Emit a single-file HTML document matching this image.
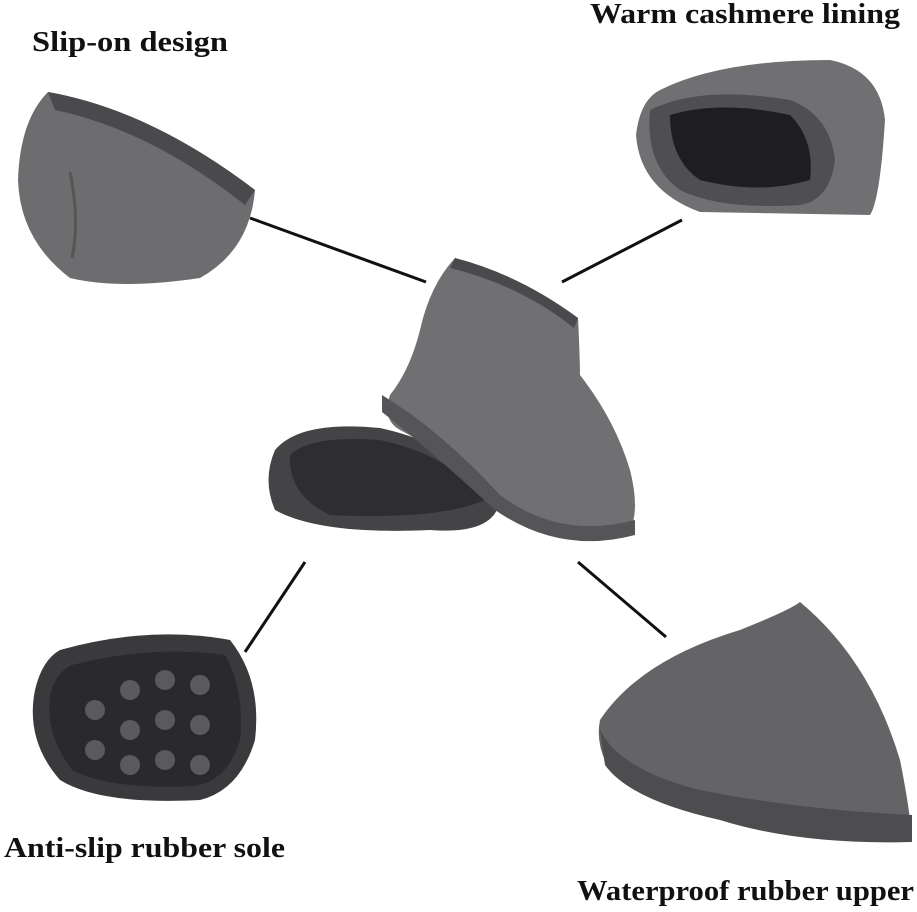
<!DOCTYPE html>
<html><head><meta charset="utf-8"><style>
body{margin:0;background:#fff;}
svg{display:block}
text{font-family:"Liberation Serif",serif;font-size:28px;font-weight:bold;fill:#111;}
</style></head><body>
<svg width="917" height="912" viewBox="0 0 917 912" xmlns="http://www.w3.org/2000/svg">
<rect width="917" height="912" fill="#fff"/>
<text x="32" y="51" textLength="196" lengthAdjust="spacingAndGlyphs">Slip-on design</text>
<text x="590" y="23" textLength="310" lengthAdjust="spacingAndGlyphs">Warm cashmere lining</text>
<text x="4" y="857" textLength="281" lengthAdjust="spacingAndGlyphs">Anti-slip rubber sole</text>
<text x="577" y="900" textLength="337" lengthAdjust="spacingAndGlyphs">Waterproof rubber upper</text>
<g stroke="#111" stroke-width="3">
<line x1="250" y1="218" x2="426" y2="282"/>
<line x1="562" y1="282" x2="682" y2="220"/>
<line x1="305" y1="562" x2="245" y2="652"/>
<line x1="578" y1="562" x2="666" y2="637"/>
</g>
<!-- top-left cuff -->
<path d="M48 92 Q150 110 255 190 Q250 250 200 278 Q120 290 70 278 Q20 240 18 180 Q20 120 48 92Z" fill="#6d6d70"/>
<path d="M48 92 Q150 110 255 190 L245 205 Q150 130 55 110Z" fill="#4a4a4d"/>
<path d="M70 172 Q80 220 72 258" stroke="#555" stroke-width="3" fill="none"/>
<!-- top-right cuff -->
<path d="M660 90 Q720 60 830 60 Q880 70 885 120 Q880 200 870 215 L700 212 Q640 190 636 135 Q640 100 660 90Z" fill="#707073"/>
<path d="M650 110 Q700 85 790 100 Q830 115 835 160 Q830 200 800 205 Q720 210 680 190 Q645 165 650 110Z" fill="#4f4f52"/>
<path d="M670 115 Q720 100 790 115 Q815 140 810 180 Q760 195 700 180 Q670 160 670 115Z" fill="#1e1e20"/>
<!-- center boot sole -->
<path d="M275 450 Q300 420 380 428 Q460 445 500 500 Q495 535 430 530 Q320 535 275 510 Q262 480 275 450Z" fill="#444447"/>
<path d="M290 455 Q310 435 380 440 Q450 455 485 500 Q440 520 330 515 Q288 495 290 455Z" fill="#2e2e30"/>
<!-- center boot -->
<path d="M455 258 Q520 275 578 318 Q580 360 580 375 Q615 420 630 470 Q640 510 630 530 Q560 545 500 500 Q440 450 400 430 Q382 420 390 395 Q410 370 420 330 Q430 285 455 258Z" fill="#707073"/>
<path d="M455 258 Q520 275 578 318 L574 328 Q520 285 450 268Z" fill="#4a4a4d"/>
<path d="M382 395 Q440 430 500 495 Q560 540 635 520 L635 535 Q560 555 495 510 Q430 450 382 412Z" fill="#555558"/>
<!-- bottom-left sole -->
<path d="M60 650 Q150 625 230 640 Q262 680 255 740 Q240 790 200 800 Q100 805 60 780 Q25 740 35 690 Q42 660 60 650Z" fill="#3a3a3c"/>
<path d="M72 665 Q150 645 225 655 Q245 690 240 740 Q228 780 195 786 Q110 790 72 770 Q45 735 50 695 Q56 672 72 665Z" fill="#2a2a2c"/>
<g fill="#5a5a5d">
<circle cx="95" cy="710" r="10"/><circle cx="130" cy="690" r="10"/><circle cx="165" cy="680" r="10"/><circle cx="200" cy="685" r="10"/>
<circle cx="95" cy="750" r="10"/><circle cx="130" cy="730" r="10"/><circle cx="165" cy="720" r="10"/><circle cx="200" cy="725" r="10"/>
<circle cx="130" cy="765" r="10"/><circle cx="165" cy="760" r="10"/><circle cx="200" cy="765" r="10"/>
</g>
<!-- bottom-right toe -->
<path d="M600 720 Q640 660 740 630 Q790 610 800 602 Q870 660 900 760 Q910 810 912 840 Q820 845 740 810 Q650 790 610 770 Q595 745 600 720Z" fill="#646467"/>
<path d="M600 730 Q620 770 700 790 Q800 810 912 815 L912 842 Q800 845 720 820 Q630 800 605 765Z" fill="#4d4d50"/>
</svg>
</body></html>
